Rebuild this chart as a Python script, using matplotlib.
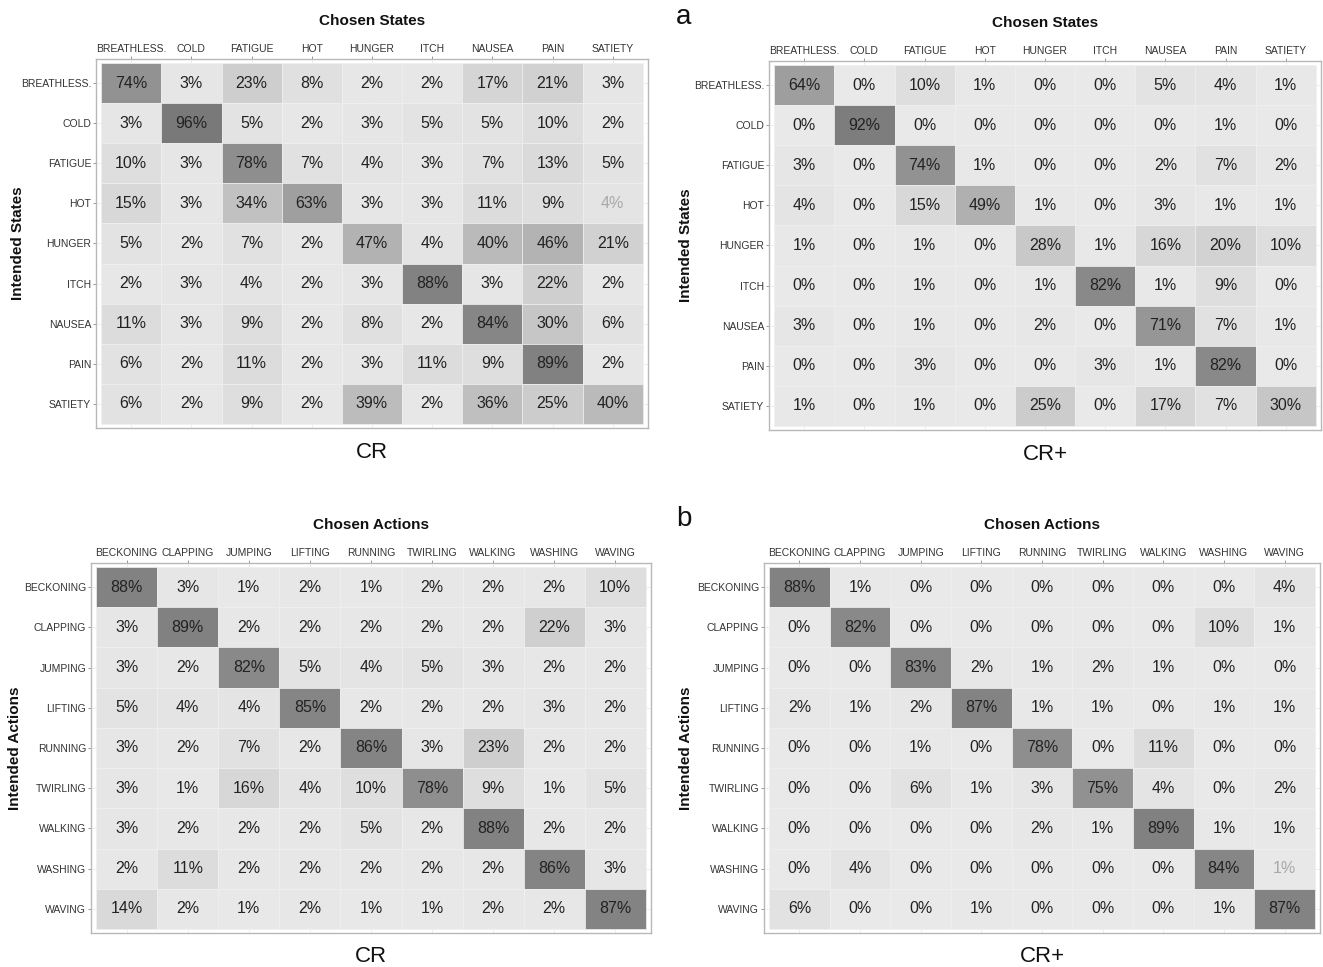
import numpy as np
import matplotlib
matplotlib.use("Agg")
import matplotlib.pyplot as plt
from matplotlib.colors import LinearSegmentedColormap
from matplotlib.patches import Rectangle

plt.rcParams['font.family'] = ['Liberation Sans', 'DejaVu Sans']

states = ["BREATHLESS.", "COLD", "FATIGUE", "HOT", "HUNGER", "ITCH", "NAUSEA", "PAIN", "SATIETY"]
actions = ["BECKONING", "CLAPPING", "JUMPING", "LIFTING", "RUNNING", "TWIRLING", "WALKING", "WASHING", "WAVING"]

states_cr = [
    [74, 3, 23, 8, 2, 2, 17, 21, 3],
    [3, 96, 5, 2, 3, 5, 5, 10, 2],
    [10, 3, 78, 7, 4, 3, 7, 13, 5],
    [15, 3, 34, 63, 3, 3, 11, 9, 4],
    [5, 2, 7, 2, 47, 4, 40, 46, 21],
    [2, 3, 4, 2, 3, 88, 3, 22, 2],
    [11, 3, 9, 2, 8, 2, 84, 30, 6],
    [6, 2, 11, 2, 3, 11, 9, 89, 2],
    [6, 2, 9, 2, 39, 2, 36, 25, 40],
]
states_crp = [
    [64, 0, 10, 1, 0, 0, 5, 4, 1],
    [0, 92, 0, 0, 0, 0, 0, 1, 0],
    [3, 0, 74, 1, 0, 0, 2, 7, 2],
    [4, 0, 15, 49, 1, 0, 3, 1, 1],
    [1, 0, 1, 0, 28, 1, 16, 20, 10],
    [0, 0, 1, 0, 1, 82, 1, 9, 0],
    [3, 0, 1, 0, 2, 0, 71, 7, 1],
    [0, 0, 3, 0, 0, 3, 1, 82, 0],
    [1, 0, 1, 0, 25, 0, 17, 7, 30],
]
actions_cr = [
    [88, 3, 1, 2, 1, 2, 2, 2, 10],
    [3, 89, 2, 2, 2, 2, 2, 22, 3],
    [3, 2, 82, 5, 4, 5, 3, 2, 2],
    [5, 4, 4, 85, 2, 2, 2, 3, 2],
    [3, 2, 7, 2, 86, 3, 23, 2, 2],
    [3, 1, 16, 4, 10, 78, 9, 1, 5],
    [3, 2, 2, 2, 5, 2, 88, 2, 2],
    [2, 11, 2, 2, 2, 2, 2, 86, 3],
    [14, 2, 1, 2, 1, 1, 2, 2, 87],
]
actions_crp = [
    [88, 1, 0, 0, 0, 0, 0, 0, 4],
    [0, 82, 0, 0, 0, 0, 0, 10, 1],
    [0, 0, 83, 2, 1, 2, 1, 0, 0],
    [2, 1, 2, 87, 1, 1, 0, 1, 1],
    [0, 0, 1, 0, 78, 0, 11, 0, 0],
    [0, 0, 6, 1, 3, 75, 4, 0, 2],
    [0, 0, 0, 0, 2, 1, 89, 1, 1],
    [0, 4, 0, 0, 0, 0, 0, 84, 1],
    [6, 0, 0, 1, 0, 0, 0, 1, 87],
]
# faded labels in the original (row, col)
faded = {"states_cr": [(3, 8)], "actions_crp": [(7, 8)]}

cmap = LinearSegmentedColormap.from_list("g", ["#e9e9e9", "#747474"])

W, H = 1323, 967
fig = plt.figure(figsize=(W / 100, H / 100), dpi=100)

def box(x0, y0, x1, y1):
    return [x0 / W, 1 - y1 / H, (x1 - x0) / W, (y1 - y0) / H]

panels = [
    (states_cr, states, "Chosen States", "Intended States", "CR", box(96, 59, 648, 428), None, "states_cr", 18),
    (states_crp, states, "Chosen States", "Intended States", "CR+", box(769, 61, 1321, 430), "a", None, 686),
    (actions_cr, actions, "Chosen Actions", "Intended Actions", "CR", box(91, 563, 651, 933), None, None, 15),
    (actions_crp, actions, "Chosen Actions", "Intended Actions", "CR+", box(764, 563, 1320, 933), "b", "actions_crp", 686),
]

for data, labels, top_title, ylab, bottom, rect, letter, key, ylab_x in panels:
    ax = fig.add_axes(rect)
    arr = np.array(data, dtype=float)
    n = len(labels)
    padx, pady = 0.085, 0.1
    ax.set_xlim(-0.5 - padx, n - 0.5 + padx)
    ax.set_ylim(n - 0.5 + pady, -0.5 - pady)
    # faint grid
    for i in range(n):
        ax.axvline(i, color="#ebebeb", lw=0.6, zorder=0)
        ax.axhline(i, color="#ebebeb", lw=0.6, zorder=0)
    for r in range(n):
        for c in range(n):
            v = arr[r, c]
            ax.add_patch(Rectangle((c - 0.5, r - 0.5), 1, 1, facecolor=cmap(v / 100.0),
                                   edgecolor="#f0f0f0", lw=0.5, zorder=1))
            col = "#222222"
            if key and (r, c) in faded.get(key, []):
                col = "#a8a8a8"
            ax.text(c, r, f"{int(v)}%", ha="center", va="center", fontsize=11.5, color=col, zorder=2)
    ax.set_xticks(range(n))
    ax.set_yticks(range(n))
    ax.set_xticklabels(labels, fontsize=7.5, color="#333333")
    ax.set_yticklabels(labels, fontsize=7.5, color="#333333")
    ax.xaxis.tick_top()
    ax.tick_params(axis="both", length=2.5, width=0.6, color="#888888", pad=1)
    for s in ax.spines.values():
        s.set_color("#b8b8b8")
        s.set_linewidth(1.0)
    ax.set_facecolor("white")
    # titles
    cx = rect[0] + rect[2] / 2
    top = rect[1] + rect[3]
    fig.text(cx, top + 38 / H, top_title, ha="center", va="center", fontsize=11, fontweight="bold", color="#111111")
    fig.text(cx, rect[1] - 24 / H, bottom, ha="center", va="center", fontsize=16, color="#111111")
    fig.text(ylab_x / W, rect[1] + rect[3] / 2, ylab, ha="center", va="center", rotation=90,
             fontsize=11, fontweight="bold", color="#111111")
    if letter:
        fig.text(684 / W, top + 44 / H, letter, ha="center", va="center", fontsize=20, color="#111111")

fig.savefig("out.png", dpi=100)
